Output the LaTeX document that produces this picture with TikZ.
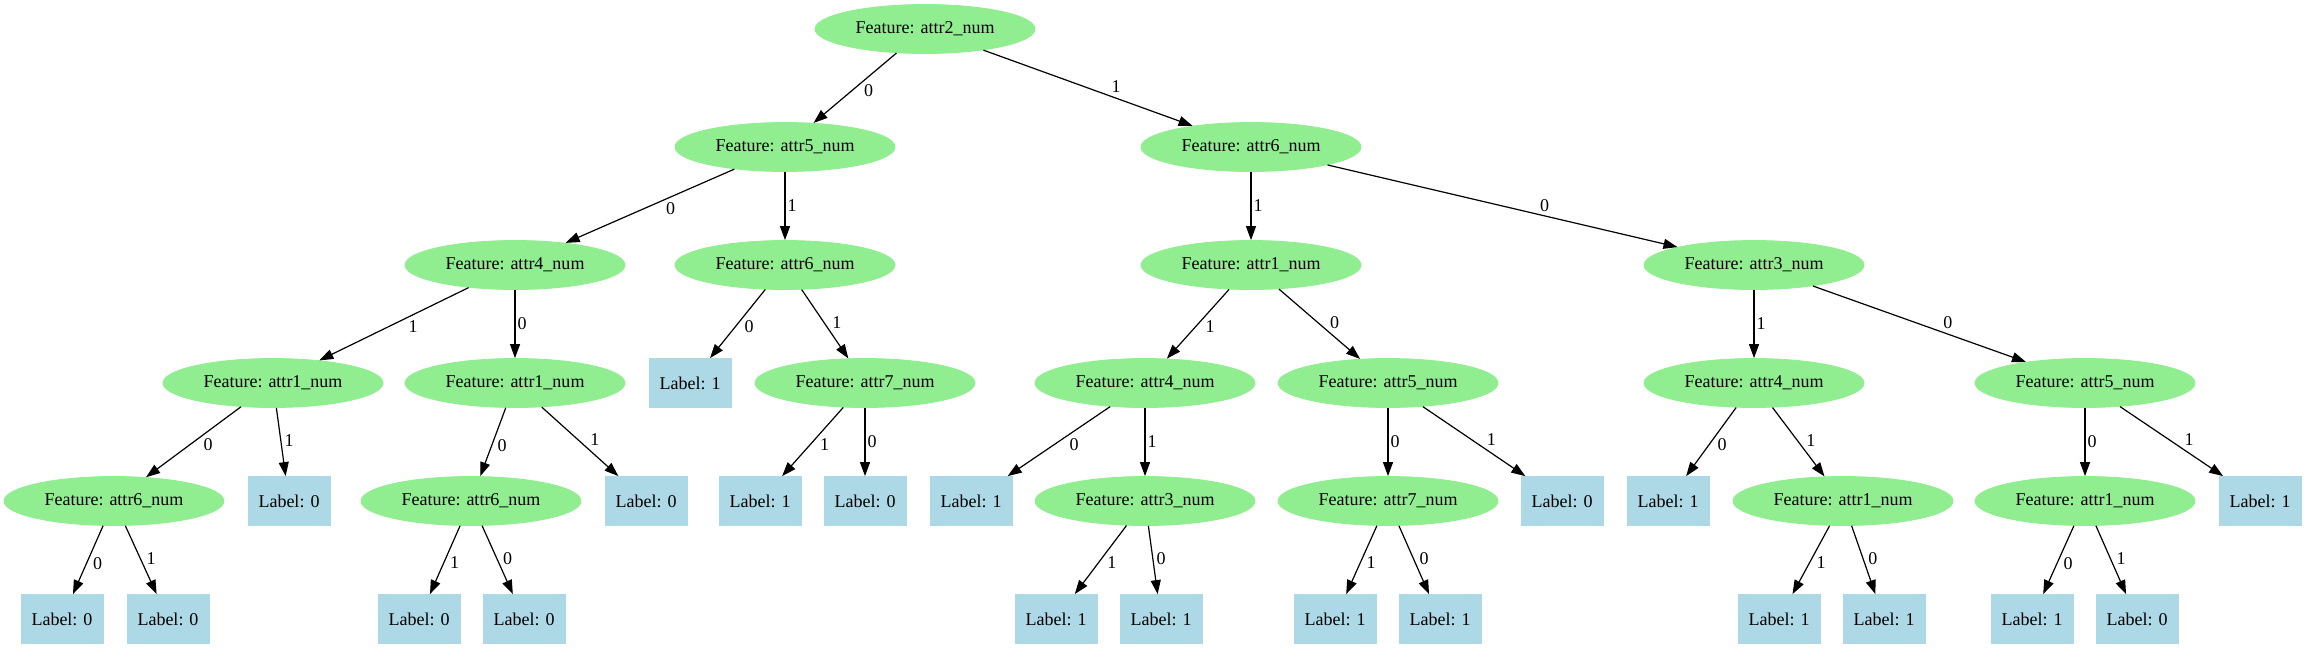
\documentclass[tikz,border=0pt]{standalone}
\usepackage{fontspec}
\setmainfont{Liberation Serif}
\usepackage{tikz}
\usetikzlibrary{shapes.geometric,arrows.meta}
\definecolor{featgreen}{HTML}{90EE90}
\definecolor{leafblue}{HTML}{ADD8E6}

\begin{document}
\begin{tikzpicture}[
					x = 0.5pt, y = -0.5pt,
					every node/.style = {font = \fontsize{9}{10}\selectfont},
					feat/.style = {ellipse, fill = featgreen, draw = featgreen, minimum width = 110pt, minimum height = 24.5pt, inner sep = 0pt},
					leaf/.style = {rectangle, fill = leafblue, draw = leafblue, minimum width = 41pt, minimum height = 24.5pt, inner sep = 0pt},
					link/.style = {-{Triangle[length = 7pt, width = 5pt]}, line width = 0.6pt},
					dr/.style = {pos = 0.6, anchor = south west, inner sep = 1pt},
					dl/.style = {pos = 0.42, anchor = north west, inner sep = 1pt},
					dv/.style = {pos = 0.5, anchor = west, inner sep = 1pt}
					]

					\useasboundingbox (0,0) rectangle (2306,649);

					\node[feat] (root) at (925,29) {Feature: attr2\_num};

					\node[feat] (n0) at (785,147) {Feature: attr5\_num};
					\node[feat] (n1) at (1251,147) {Feature: attr6\_num};

					\node[feat] (n00) at (515,265) {Feature: attr4\_num};
					\node[feat] (n01) at (785,265) {Feature: attr6\_num};
					\node[feat] (n11) at (1251,265) {Feature: attr1\_num};
					\node[feat] (n10) at (1754,265) {Feature: attr3\_num};

					\node[feat] (n001) at (273,383) {Feature: attr1\_num};
					\node[feat] (n000) at (515,383) {Feature: attr1\_num};
					\node[leaf] (n010) at (690,383) {Label: 1};
					\node[feat] (n011) at (865,383) {Feature: attr7\_num};
					\node[feat] (n111) at (1145,383) {Feature: attr4\_num};
					\node[feat] (n110) at (1388,383) {Feature: attr5\_num};
					\node[feat] (n101) at (1754,383) {Feature: attr4\_num};
					\node[feat] (n100) at (2085,383) {Feature: attr5\_num};

					\node[feat] (n0010) at (114,501) {Feature: attr6\_num};
					\node[leaf] (n0011) at (289,501) {Label: 0};
					\node[feat] (n0000) at (471,501) {Feature: attr6\_num};
					\node[leaf] (n0001) at (646,501) {Label: 0};
					\node[leaf] (n0111) at (760,501) {Label: 1};
					\node[leaf] (n0110) at (865,501) {Label: 0};
					\node[leaf] (n1110) at (971,501) {Label: 1};
					\node[feat] (n1111) at (1145,501) {Feature: attr3\_num};
					\node[feat] (n1100) at (1388,501) {Feature: attr7\_num};
					\node[leaf] (n1101) at (1562,501) {Label: 0};
					\node[leaf] (n1010) at (1668,501) {Label: 1};
					\node[feat] (n1011) at (1843,501) {Feature: attr1\_num};
					\node[feat] (n1000) at (2085,501) {Feature: attr1\_num};
					\node[leaf] (n1001) at (2260,501) {Label: 1};

					\node[leaf] (n00100) at (62,619) {Label: 0};
					\node[leaf] (n00101) at (168,619) {Label: 0};
					\node[leaf] (n00001) at (419,619) {Label: 0};
					\node[leaf] (n00000) at (524,619) {Label: 0};
					\node[leaf] (n11111) at (1056,619) {Label: 1};
					\node[leaf] (n11110) at (1161,619) {Label: 1};
					\node[leaf] (n11001) at (1335,619) {Label: 1};
					\node[leaf] (n11000) at (1440,619) {Label: 1};
					\node[leaf] (n10111) at (1779,619) {Label: 1};
					\node[leaf] (n10110) at (1884,619) {Label: 1};
					\node[leaf] (n10000) at (2032,619) {Label: 1};
					\node[leaf] (n10001) at (2137,619) {Label: 0};

					\draw[link] (root) -- (n0) node[dl]{0};
					\draw[link] (root) -- (n1) node[dr]{1};

					\draw[link] (n0) -- (n00) node[dl]{0};
					\draw[link] (n0) -- (n01) node[dv]{1};
					\draw[link] (n1) -- (n11) node[dv]{1};
					\draw[link] (n1) -- (n10) node[dr]{0};

					\draw[link] (n00) -- (n001) node[dl]{1};
					\draw[link] (n00) -- (n000) node[dv]{0};
					\draw[link] (n01) -- (n010) node[dl]{0};
					\draw[link] (n01) -- (n011) node[dr]{1};
					\draw[link] (n11) -- (n111) node[dl]{1};
					\draw[link] (n11) -- (n110) node[dr]{0};
					\draw[link] (n10) -- (n101) node[dv]{1};
					\draw[link] (n10) -- (n100) node[dr]{0};

					\draw[link] (n001) -- (n0010) node[dl]{0};
					\draw[link] (n001) -- (n0011) node[dr]{1};
					\draw[link] (n000) -- (n0000) node[dl]{0};
					\draw[link] (n000) -- (n0001) node[dr]{1};
					\draw[link] (n011) -- (n0111) node[dl]{1};
					\draw[link] (n011) -- (n0110) node[dv]{0};
					\draw[link] (n111) -- (n1110) node[dl]{0};
					\draw[link] (n111) -- (n1111) node[dv]{1};
					\draw[link] (n110) -- (n1100) node[dv]{0};
					\draw[link] (n110) -- (n1101) node[dr]{1};
					\draw[link] (n101) -- (n1010) node[dl]{0};
					\draw[link] (n101) -- (n1011) node[dr]{1};
					\draw[link] (n100) -- (n1000) node[dv]{0};
					\draw[link] (n100) -- (n1001) node[dr]{1};

					\draw[link] (n0010) -- (n00100) node[dl]{0};
					\draw[link] (n0010) -- (n00101) node[dr]{1};
					\draw[link] (n0000) -- (n00001) node[dl]{1};
					\draw[link] (n0000) -- (n00000) node[dr]{0};
					\draw[link] (n1111) -- (n11111) node[dl]{1};
					\draw[link] (n1111) -- (n11110) node[dr]{0};
					\draw[link] (n1100) -- (n11001) node[dl]{1};
					\draw[link] (n1100) -- (n11000) node[dr]{0};
					\draw[link] (n1011) -- (n10111) node[dl]{1};
					\draw[link] (n1011) -- (n10110) node[dr]{0};
					\draw[link] (n1000) -- (n10000) node[dl]{0};
					\draw[link] (n1000) -- (n10001) node[dr]{1};

				\end{tikzpicture}
\end{document}
